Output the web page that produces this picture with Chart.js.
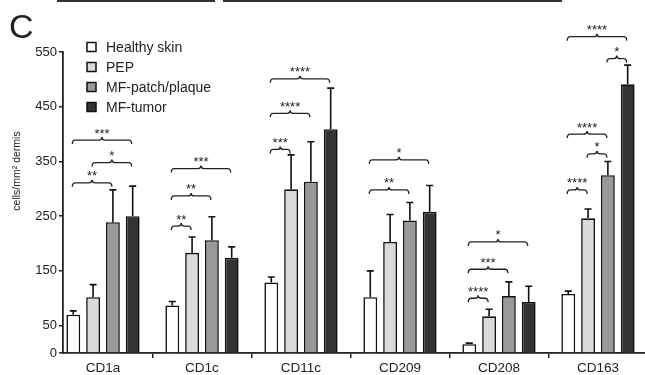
<!DOCTYPE html>
<html>
<head>
<meta charset="utf-8">
<script src="https://cdn.jsdelivr.net/npm/chart.js@4"></script>
<style>
  html, body { margin: 0; padding: 0; background: #fff; }
</style>
</head>
<body>
<canvas id="myChart" width="645" height="375"></canvas>
<script>
/* data */
var markers = ['CD1a', 'CD1c', 'CD11c', 'CD209', 'CD208', 'CD163'];
var groupNames = ['Healthy skin', 'PEP', 'MF-patch/plaque', 'MF-tumor'];
var healthy = [70, 87, 129, 102, 16, 108];
var healthyErr = [7, 7, 10, 48, 2, 5];
var pep = [102, 183, 299, 203, 67, 246];
var pepErr = [23, 29, 63, 50, 13, 17];
var patch = [239, 206, 313, 242, 104, 325];
var patchErr = [59, 43, 73, 33, 26, 25];
var tumor = [250, 174, 409, 258, 93, 491];
var tumorErr = [55, 20, 75, 48, 29, 35];
var yTicks = [0, 50, 150, 250, 350, 450, 550];

// significance brackets: marker, from group, to group, height (cells/mm2), stars
var sigMarker = [0, 0, 0, 1, 1, 1, 2, 2, 2, 3, 3, 4, 4, 4, 5, 5, 5, 5, 5];
var sigFrom   = [0, 1, 0, 0, 0, 0, 0, 0, 0, 0, 0, 0, 0, 0, 0, 1, 0, 2, 0];
var sigTo     = [2, 3, 3, 1, 2, 3, 1, 2, 3, 2, 3, 1, 2, 3, 1, 2, 2, 3, 3];
var sigY      = [311, 348, 389, 232, 287, 337, 372, 438, 501, 298, 353, 100, 153, 203, 298, 364, 400, 538, 578];
var sigText   = ['**', '*', '***', '**', '**', '***', '***', '****', '****', '**', '*', '****', '***', '*', '****', '*', '****', '*', '****'];

var FONT = "'Liberation Sans', Arial, sans-serif";
var INK = '#222';

function toPoints(arr) {
  return arr.map(function(v, i) { return {x: i, y: v}; });
}

var datasetses = [
  {label: groupNames[0], data: toPoints(healthy), errors: healthyErr, backgroundColor: '#ffffff'},
  {label: groupNames[1], data: toPoints(pep), errors: pepErr, backgroundColor: '#dadada'},
  {label: groupNames[2], data: toPoints(patch), errors: patchErr, backgroundColor: '#999999'},
  {label: groupNames[3], data: toPoints(tumor), errors: tumorErr, backgroundColor: '#333333'}
];
datasetses.forEach(function(ds) {
  ds.borderColor = '#111';
  ds.borderWidth = 1.6;
  ds.categoryPercentage = 0.8;
  ds.barPercentage = 0.7;
});

/* error bars, brackets, legend and the extra text */
var extras = {
  id: 'extras',
  afterDatasetsDraw: function(chart) {
    var ctx = chart.ctx;
    var y = chart.scales.y;
    ctx.save();
    ctx.strokeStyle = '#111';
    ctx.lineWidth = 1.6;
    chart.data.datasets.forEach(function(ds, i) {
      var meta = chart.getDatasetMeta(i);
      meta.data.forEach(function(bar, j) {
        var top = y.getPixelForValue(ds.data[j].y + ds.errors[j]);
        ctx.beginPath();
        ctx.moveTo(bar.x, bar.y);
        ctx.lineTo(bar.x, top);
        ctx.moveTo(bar.x - 3.5, top);
        ctx.lineTo(bar.x + 3.5, top);
        ctx.stroke();
      });
    });

    // curly brackets
    ctx.strokeStyle = INK;
    ctx.lineWidth = 1.3;
    ctx.fillStyle = INK;
    ctx.font = '13px ' + FONT;
    ctx.textAlign = 'center';
    ctx.textBaseline = 'alphabetic';
    for (var k = 0; k < sigY.length; k++) {
      var x1 = chart.getDatasetMeta(sigFrom[k]).data[sigMarker[k]].x - 1;
      var x2 = chart.getDatasetMeta(sigTo[k]).data[sigMarker[k]].x - 1;
      var by = y.getPixelForValue(sigY[k]);
      var xm = (x1 + x2) / 2;
      ctx.beginPath();
      ctx.moveTo(x1, by + 4);
      ctx.quadraticCurveTo(x1, by, x1 + 3, by);
      ctx.lineTo(xm - 3, by);
      ctx.quadraticCurveTo(xm, by, xm, by - 3);
      ctx.quadraticCurveTo(xm, by, xm + 3, by);
      ctx.lineTo(x2 - 3, by);
      ctx.quadraticCurveTo(x2, by, x2, by + 4);
      ctx.stroke();
      ctx.fillText(sigText[k], xm, by - 2.5);
    }

    // legend
    ctx.textAlign = 'left';
    ctx.textBaseline = 'middle';
    ctx.font = '14px ' + FONT;
    chart.data.datasets.forEach(function(ds, i) {
      var ly = 47 + i * 20;
      ctx.fillStyle = ds.backgroundColor;
      ctx.fillRect(87, ly - 4.5, 9, 9);
      ctx.strokeStyle = '#111';
      ctx.lineWidth = 1.5;
      ctx.strokeRect(87, ly - 4.5, 9, 9);
      ctx.fillStyle = INK;
      ctx.fillText(ds.label, 106, ly + 1);
    });

    // panel letter
    ctx.font = '34px ' + FONT;
    ctx.textBaseline = 'alphabetic';
    ctx.fillText('C', 9, 38);

    // y axis title
    ctx.save();
    ctx.translate(17.5, 171);
    ctx.rotate(-Math.PI / 2);
    ctx.textAlign = 'center';
    ctx.textBaseline = 'middle';
    ctx.font = '10.5px ' + FONT;
    ctx.fillText('cells/mm\u00b2 dermis', 0, 0);
    ctx.restore();

    // edge of the panel above
    ctx.fillStyle = '#333';
    ctx.fillRect(57, 0, 158, 2);
    ctx.fillRect(223, 0, 339, 2);
    ctx.restore();
  }
};

var ctx = document.getElementById('myChart').getContext('2d');
var myChart = new Chart(ctx, {
  type: 'bar',
  data: {datasets: datasetses},
  options: {
    responsive: false,
    animation: false,
    devicePixelRatio: 1,
    layout: {padding: {top: 52, left: 0, right: 0, bottom: 0}},
    plugins: {legend: {display: false}, tooltip: {enabled: false}},
    scales: {
      x: {
        type: 'linear',
        offset: false,
        min: -0.404,
        max: 5.475,
        afterBuildTicks: function(s) {
          s.ticks = markers.map(function(m, i) { return {value: i}; });
        },
        afterFit: function(s) { s.height = 22; },
        ticks: {
          autoSkip: false,
          maxRotation: 0,
          padding: 2,
          color: INK,
          font: {family: FONT, size: 13.5},
          callback: function(v, i) { return markers[i]; }
        },
        grid: {offset: true, drawOnChartArea: false, drawTicks: true, tickLength: 5, color: INK, lineWidth: 1.5},
        border: {color: INK, width: 1.8}
      },
      y: {
        min: 0,
        max: 550,
        afterBuildTicks: function(s) {
          s.ticks = yTicks.map(function(v) { return {value: v}; });
        },
        afterFit: function(s) { s.width = 63; },
        ticks: {padding: 2, color: INK, font: {family: FONT, size: 13}},
        grid: {drawOnChartArea: false, drawTicks: true, tickLength: 4, color: INK, lineWidth: 1.5},
        border: {color: INK, width: 1.8}
      }
    }
  },
  plugins: [extras]
});
</script>
</body>
</html>
